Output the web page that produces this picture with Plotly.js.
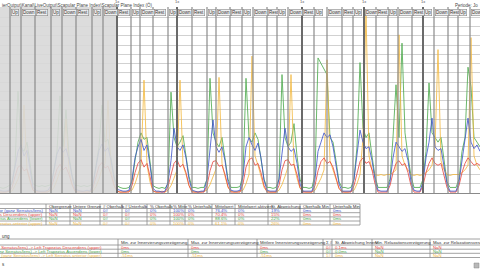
<!DOCTYPE html>
<html><head><meta charset="utf-8">
<script src="https://cdn.plot.ly/plotly-3.0.1.min.js"></script>
<style>html,body{margin:0;padding:0;background:#fff;overflow:hidden}#chart{width:480px;height:270px}</style>
</head><body><div id="chart"></div>
<script>
// ---------- DATA ----------
const sampleStep = 3;
const blue = [0.3,0.2,0.2,0.3, 1.2,3.0,4.5,5.2,4.0,4.6,2.5,0.6, 0.3,0.2,0.2,0.2,0.3,
 0.8,2.5,4.2,5.0,4.4,4.8,3.6,1.8,0.4, 0.3,0.2,0.2,0.3,0.2, 1.0,2.8,4.6,5.3,4.5,4.9,3.5,1.6,0.4,
 0.3,0.2,0.2,0.3, 1.5,3.8,5.0,5.8,4.6,5.2,3.0,0.5, 0.2,0.2,0.1,0.2, 1.2,3.5,7.0,5.0,4.6,5.2,3.8,1.5,0.3,
 0.2,0.1,0.2,0.2, 1.5,4.5,7.9,5.0,4.4,5.0,3.5,1.2,0.3, 0.2,0.2,0.3, 1.8,5.0,6.0,5.2,4.6,5.4,3.8,1.4,0.3,
 0.2,0.2,0.2, 1.5,4.5,7.0,5.0,4.5,4.8,3.2,1.0,0.2, 0.2,0.2,0.2, 1.5,4.5,5.5,6.5,6.0,6.3,5.0,3.0,1.0,0.2,
 0.2,0.2,0.2, 1.5,4.0,6.8,5.5,4.8,5.0,3.5,1.5,0.3, 0.2,0.2,0.2, 1.2,3.8,5.5,5.0,4.5,4.8,3.5,1.2,0.3,
 0.2,0.2, 1.2,3.8,5.5,8.1,5.0,4.6,4.8,3.0,1.0,0.2, 0.2,0.2, 1.2,3.5,5.5,8.1,5.5,4.8,5.2,4.5];
const red = [0.1,0.1,0.1,0.2, 0.6,1.8,2.8,3.0,2.4,2.6,1.5,0.3, 0.1,0.1,0.1,0.1,0.1,
 0.5,1.6,2.6,3.1,2.5,2.8,2.0,0.9,0.2, 0.1,0.1,0.1,0.1,0.1, 0.6,1.8,2.9,3.3,2.7,2.9,2.0,0.8,0.2,
 0.1,0.1,0.1,0.1, 0.8,2.2,3.2,3.6,2.8,3.2,1.8,0.2, 0.1,0.1,0.1,0.1, 0.7,2.0,3.2,3.6,2.8,3.1,2.2,0.8,0.1,
 0.1,0.1,0.1,0.1, 0.8,2.4,3.4,3.5,2.9,3.0,2.0,0.7,0.1, 0.1,0.1,0.1, 1.0,2.8,3.6,3.8,3.0,3.2,2.2,0.8,0.1,
 0.1,0.1,0.1, 0.8,2.5,3.5,3.6,3.0,3.1,2.0,0.6,0.1, 0.1,0.1,0.1, 0.8,2.4,3.4,3.8,3.2,3.4,2.8,1.6,0.5,0.1,
 0.1,0.1,0.1, 0.8,2.2,3.4,3.8,3.2,3.4,2.5,1.0,0.1, 0.1,0.1,0.1, 0.8,2.2,3.2,3.5,3.0,3.2,2.2,0.8,0.1,
 0.1,0.1, 0.8,2.2,3.2,3.8,3.2,3.0,3.2,2.0,0.6,0.1, 0.1,0.1, 0.8,2.2,3.2,3.8,3.4,3.0,3.2,3.0];
const green = [0.6,0.5,0.6,0.8, 1.0,3.0,11.0,5.0,4.5,5.5,3.0,1.0, 0.8,0.7,0.8,0.7,0.8,
 0.9,2.5,4.5,10.5,5.0,9.0,4.0,2.0,0.8, 0.8,0.7,0.8,0.7,0.8, 1.0,3.0,5.0,9.5,5.5,5.8,4.0,1.8,0.8,
 0.6,0.5,0.5,0.6, 1.2,3.5,5.5,6.5,5.8,6.0,3.2,0.8, 0.6,0.5,0.6,0.5, 1.0,10.9,6.0,5.0,5.5,6.2,4.0,1.8,0.6,
 0.6,0.5,0.6,0.6, 1.5,12.4,6.5,5.5,5.0,6.0,3.8,1.5,0.6, 0.6,0.6,0.7, 2.0,12.4,6.0,5.5,6.5,5.8,3.5,1.5,0.6,
 0.6,0.5,0.6, 1.5,12.8,6.0,5.0,5.5,7.5,4.0,1.5,0.6, 0.6,0.5,0.6, 2.0,14.6,14.0,13.4,12.8,6.0,5.5,3.5,1.2,0.6,
 0.6,0.5,0.6, 1.5,5.0,14.1,7.0,6.0,6.5,4.0,1.8,0.6, 0.6,0.6,0.6, 1.5,6.0,11.7,6.0,16.2,6.5,4.0,1.8,0.6,
 0.6,0.6, 1.5,4.5,11.9,6.5,6.0,5.5,6.0,3.5,1.2,0.6, 0.6,0.6, 1.5,4.5,6.0,13.6,11.5,6.0,5.5,5.0];
const orange = [0.1,0.1,0.1,0.2, 0.2,0.8,1.5,2.5,9.5,2.5,1.2,0.3, 0.1,0.2,0.1,0.1,0.2,
 0.2,0.6,1.4,2.4,3.0,8.0,2.5,1.0,0.2, 0.1,0.2,0.1,0.1,0.2, 0.2,0.7,1.5,2.6,3.2,10.0,2.4,1.0,0.2,
 0.1,0.1,0.1,0.2, 0.3,1.0,2.0,3.0,12.2,3.0,1.2,0.2, 0.1,0.1,0.2,0.1, 0.3,0.8,1.6,2.5,12.2,3.0,2.0,0.8,0.2,
 0.1,0.1,0.1,0.2, 0.3,0.9,1.8,2.6,12.5,3.2,1.8,0.6,0.2, 0.1,0.1,0.2, 0.3,1.0,2.0,14.8,4.0,3.0,1.8,0.6,0.2,
 0.1,0.1,0.1, 0.3,0.9,1.8,2.8,12.8,3.0,1.6,0.5,0.2, 0.1,0.1,0.1, 0.3,0.9,1.6,2.5,14.4,3.5,2.5,1.5,0.5,0.2,
 0.1,0.1,0.2, 0.3,1.0,2.0,6.0,19.8,4.0,2.5,2.0,1.9, 2.0,1.9,2.0, 2.0,2.2,2.5,17.1,4.0,3.0,2.5,2.0,1.9,
 2.0,1.9, 2.0,2.2,2.5,3.0,5.0,15.5,3.5,2.5,2.0,1.9, 2.0,2.0, 2.0,2.2,2.5,3.0,16.8,4.0,3.0,2.5];

const phaseBounds = [10,21,35,51,62,76,92,103,117,131,140,153,168,177,192,207,216,230,242,253,267,277,288,302,314,327,342,353,364,376,388,398,412,423,434,448,458,470];
const phaseNames = ["Up","Down","Rest"];
const repBounds = [117,177,302,364,423];
const inactiveEnd = 117;

const muscles = ["Serratus anterior (ganz Serratus/lens)","Left Trapezius Descendens (upper)","Left Trapezius Ascendens (lower)","Left Serratus anterior (upper)"];
const t1Header = ["","Obergrenze","Untere Grenze","# Oberhalb","# Unterhalb","% Oberhalb","% Mitte","% Unterhalb","Mittelwert","Mittelwert aktiviert","St. Abweichung","Oberhalb Min","Unterhalb Min"];
const t1Obergrenze = ["NaN","NaN","NaN","NaN"];
const t1Untere = ["NaN","NaN","NaN","NaN"];
const t1NOber = ["0#","0#","0#","0#"];
const t1NUnter = ["0#","0#","0#","0#"];
const t1POber = ["0%","0%","0%","0%"];
const t1PMitte = ["100%","100%","100%","100%"];
const t1PUnter = ["0%","0%","0%","0%"];
const t1Mittel = ["76.4%","70.4%","88.6%","61.1%"];
const t1MittelAkt = ["0%","0%","0%","0%"];
const t1StAbw = ["19%","15%","22%","26%"];
const t1OberMin = ["0ms","0ms","0ms","0ms"];
const t1UnterMin = ["0ms","0ms","0ms","0ms"];

const t2Header = ["","Min. zur Innervierungsverzögerung","Max. zur Innervierungsverzögerung","Mittlere Innervierungsverzögerung","Σ #","St. Abweichung Innerv.","Min. Relaxationsverzögerung","Max. zur Relaxationsverzögerung"];
const t2Pairs = ["Serratus anterior (ganz Serratus/lens) -> Left Trapezius Descendens (upper)","Serratus anterior (ganz Serratus/lens) -> Left Trapezius Ascendens (lower)","Serratus anterior (ganz Serratus/lens) -> Left Serratus anterior (upper)"];
const t2MinInn = ["0ms","0ms","-51ms"];
const t2MaxInn = ["0ms","0ms","-51ms"];
const t2MeanInn = ["0ms","0ms","-51ms"];
const t2Count = ["0#","0#","1#"];
const t2StAbw = ["0.1ms","0.0ms","0ms"];
const t2MinRel = ["NaN","NaN","NaN"];
const t2MaxRel = ["NaN","NaN","NaN"];

// ---------- CHART ----------
const cBlue = "#3d52cc", cRed = "#e8463e", cGreen = "#4aa84a", cOrange = "#f4b93e";
const time = blue.map((_, i) => i * sampleStep);
const FONT = "Liberation Sans, Arial, sans-serif";
const py = p => (193 - p) / 185;   // pixel row -> paper y
const ppx = p => p / 480;          // pixel col -> paper x

const line = (y, c) => ({x: time, y: y, type: "scatter", mode: "lines", line: {color: c, width: 0.9}, opacity: 0.9, hoverinfo: "skip"});
const traces = [line(green, cGreen), line(orange, cOrange), line(red, cRed), line(blue, cBlue)];
traces.push({x: phaseBounds, y: phaseBounds.map(() => 20.35), type: "scatter", mode: "markers",
  marker: {symbol: "triangle-down", size: 4, color: "#222"}, cliponaxis: false, hoverinfo: "skip"});

const shapes = [];
const ann = [];
shapes.push({type: "rect", xref: "x", yref: "paper", x0: -5, x1: inactiveEnd, y0: 0, y1: 1.005,
  fillcolor: "rgba(216,216,216,0.9)", line: {width: 0}, layer: "above"});
phaseBounds.forEach((b, i) => {
  const thick = repBounds.includes(b);
  shapes.push({type: "line", xref: "x", yref: "paper", x0: b, x1: b, y0: 0, y1: 1.005,
    line: {color: thick ? "#6a6a6a" : "#8a8a8a", width: thick ? 2 : 1.2}, layer: "above"});
  ann.push({xref: "x", yref: "paper", x: b + 1, y: py(13), xanchor: "left", yanchor: "middle", text: phaseNames[i % 3],
    showarrow: false, font: {size: 4.5, color: "#333", family: FONT}, bgcolor: "#eeeeee", bordercolor: "#8a8a8a", borderwidth: 0.6, borderpad: 0.4});
});
repBounds.forEach(b => ann.push({xref: "x", yref: "paper", x: b, y: py(6), text: "1x", showarrow: false,
  font: {size: 4, color: "#555", family: FONT}, xanchor: "center", yanchor: "bottom"}));
ann.push({xref: "paper", yref: "paper", x: 0, y: py(0), xanchor: "left", yanchor: "top",
  text: "ierOutput\\Kanal\\LiveOutput\\Scapular Plane Index\\Scapular Plane Index (Ö)", showarrow: false,
  font: {size: 4.5, color: "#444", family: FONT}});
ann.push({xref: "paper", yref: "paper", x: 1, y: py(1), xanchor: "right", yanchor: "top", text: "Periode: Jo", showarrow: false,
  font: {size: 4.5, color: "#444", family: FONT}});

function drawTable(cols, rows, grid, colors, firstAnchor, firstX) {
  shapes.push({type: "line", xref: "paper", yref: "paper", x0: ppx(cols[0]), x1: ppx(cols[cols.length - 1]), y0: py(rows[0]), y1: py(rows[0]), line: {color: "#8a8a8a", width: 0.8}});
  rows.slice(1).forEach(r => shapes.push({type: "line", xref: "paper", yref: "paper", x0: ppx(cols[0]), x1: ppx(cols[cols.length - 1]), y0: py(r), y1: py(r), line: {color: "#8a8a8a", width: 0.8}}));
  cols.forEach((c, j) => { if (j > 0) shapes.push({type: "line", xref: "paper", yref: "paper", x0: ppx(c), x1: ppx(c), y0: py(rows[0]), y1: py(rows[rows.length - 1]), line: {color: "#8a8a8a", width: 0.8}}); });
  grid.forEach((row, r) => row.forEach((txt, j) => {
    if (!txt) return;
    const yc = (rows[r] + rows[r + 1]) / 2;
    const first = j === 0;
    ann.push({xref: "paper", yref: "paper", x: ppx(first ? firstX : cols[j] + 1), y: py(yc), xanchor: first ? firstAnchor : "left", yanchor: "middle",
      text: txt, showarrow: false, font: {size: 4.3, color: colors[r], family: FONT}});
  }));
}
const t1Cols = [0,46,70,100,122,147,170,185,212,235,268,300,330,360];
const t1Rows = [204,208.5,212.7,216.9,221,225];
const t1Grid = [t1Header].concat(muscles.map((m, i) => [m, t1Obergrenze[i], t1Untere[i], t1NOber[i], t1NUnter[i], t1POber[i], t1PMitte[i], t1PUnter[i], t1Mittel[i], t1MittelAkt[i], t1StAbw[i], t1OberMin[i], t1UnterMin[i]]));
drawTable(t1Cols, t1Rows, t1Grid, ["#333", cBlue, cRed, cGreen, cOrange], "right", 45);

const t2Cols = [0,118,188,257,323,332,372,430,490];
const t2Rows = [239,245,249.2,253.3,257.5];
const t2Grid = [t2Header].concat(t2Pairs.map((p, i) => [p, t2MinInn[i], t2MaxInn[i], t2MeanInn[i], t2Count[i], t2StAbw[i], t2MinRel[i], t2MaxRel[i]]));
drawTable(t2Cols, t2Rows, t2Grid, ["#333", cRed, cGreen, cOrange], "right", 104);

ann.push({xref: "paper", yref: "paper", x: 0, y: py(236), xanchor: "left", yanchor: "middle", text: "ung", showarrow: false, font: {size: 4.5, color: "#333", family: FONT}});
ann.push({xref: "paper", yref: "paper", x: 0, y: py(264), xanchor: "left", yanchor: "middle", text: "s", showarrow: false, font: {size: 4.5, color: "#333", family: FONT}});
shapes.push({type: "rect", xref: "paper", yref: "paper", x0: ppx(474), x1: ppx(479), y0: py(268), y1: py(263), fillcolor: "#b8b8b8", line: {color: "#888", width: 0.5}});

const layout = {
  width: 480, height: 270, margin: {l: 0, r: 0, t: 8, b: 77, pad: 0},
  paper_bgcolor: "#ffffff", plot_bgcolor: "#ffffff", showlegend: false,
  font: {family: FONT, size: 5},
  xaxis: {range: [0, 480], showgrid: false, zeroline: false, showticklabels: false, ticks: "", showline: true, linecolor: "#8a8a8a", linewidth: 1},
  yaxis: {range: [0, 20], dtick: 1, showgrid: true, gridcolor: "#c6c6c6", gridwidth: 0.8, zeroline: false, showticklabels: false, ticks: ""},
  shapes: shapes, annotations: ann
};
Plotly.newPlot("chart", traces, layout, {staticPlot: true, displayModeBar: false});
</script></body></html>
